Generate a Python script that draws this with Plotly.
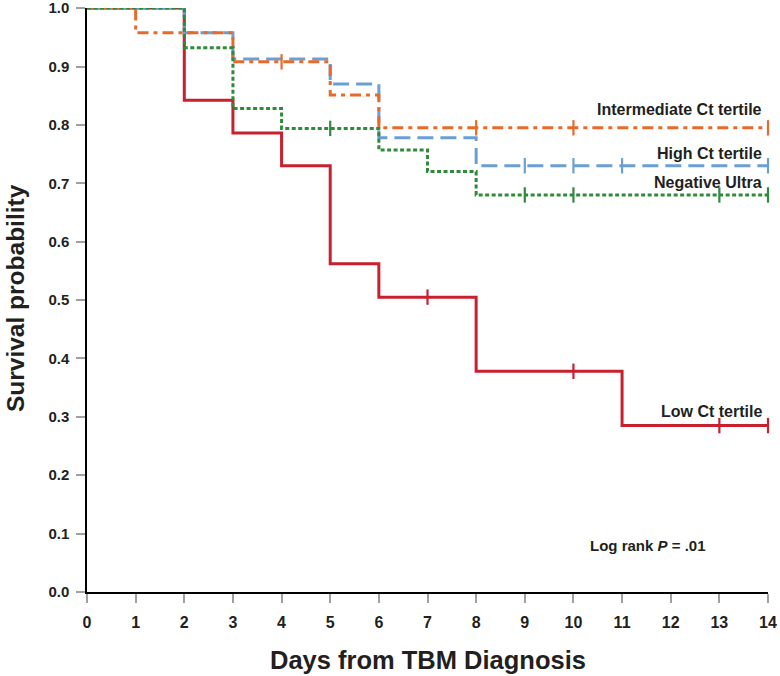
import plotly.graph_objects as go

# Kaplan-Meier step data
low_t = [0, 2, 3, 4, 5, 6, 8, 11, 14]
low_s = [1.0, 0.842, 0.786, 0.730, 0.562, 0.505, 0.378, 0.285, 0.285]
low_c = [7, 10, 13, 14]

int_t = [0, 1, 3, 5, 6, 14]
int_s = [1.0, 0.958, 0.908, 0.851, 0.795, 0.795]
int_c = [4, 8, 10, 14]

high_t = [0, 2, 3, 5, 6, 8, 14]
high_s = [1.0, 0.958, 0.913, 0.870, 0.778, 0.730, 0.730]
high_c = [9, 10, 11, 14]

neg_t = [0, 2, 3, 4, 6, 7, 8, 14]
neg_s = [1.0, 0.932, 0.828, 0.794, 0.757, 0.720, 0.680, 0.680]
neg_c = [5, 9, 10, 13, 14]

x_ticks = list(range(0, 15))
y_ticks = [0.0, 0.1, 0.2, 0.3, 0.4, 0.5, 0.6, 0.7, 0.8, 0.9, 1.0]

RED = "#C8202F"
ORANGE = "#E8692A"
BLUE = "#6A9FD6"
GREEN = "#2F8A3B"


def surv_at(ts, ss, t):
    v = ss[0]
    for ti, si in zip(ts, ss):
        if ti <= t:
            v = si
    return v


fig = go.Figure()

series = [
    ("Low Ct tertile", low_t, low_s, low_c, RED, "solid"),
    ("High Ct tertile", high_t, high_s, high_c, BLUE, "16px,7px"),
    ("Intermediate Ct tertile", int_t, int_s, int_c, ORANGE, "11px,5px,4px,5px"),
    ("Negative Ultra", neg_t, neg_s, neg_c, GREEN, "4px,2.5px"),
]

for name, ts, ss, cs, col, dash in series:
    fig.add_trace(go.Scatter(
        x=ts, y=ss, mode="lines", line=dict(color=col, width=3, dash=dash, shape="hv"),
        name=name, showlegend=False, cliponaxis=False))
    fig.add_trace(go.Scatter(
        x=cs, y=[surv_at(ts, ss, c) for c in cs], mode="markers",
        marker=dict(symbol="line-ns", size=11, line=dict(color=col, width=2.2)),
        showlegend=False, cliponaxis=False))

tick_font = dict(family="Liberation Sans", size=15, color="#231F20", weight="bold")
xtick_font = dict(family="Liberation Sans", size=16, color="#231F20", weight="bold")

fig.update_layout(
    width=780, height=676,
    margin=dict(l=87, r=12, t=8, b=84),
    plot_bgcolor="white", paper_bgcolor="white",
    xaxis=dict(range=[0, 14], tickvals=x_ticks, ticktext=[str(v) for v in x_ticks],
               automargin=False, ticklabeloverflow="allow",
               showgrid=False, zeroline=False, showline=True, linecolor="black", linewidth=1.5,
               ticks="outside", ticklen=9, tickcolor="#A0A0A0", tickwidth=2,
               ticklabelstandoff=6, tickfont=xtick_font),
    yaxis=dict(range=[0, 1.0002], tickvals=y_ticks, ticktext=[f"{v:.1f}" for v in y_ticks],
               automargin=False, ticklabeloverflow="allow",
               showgrid=False, zeroline=False, showline=True, linecolor="black", linewidth=1.5,
               ticks="outside", ticklen=9, tickcolor="#A0A0A0", tickwidth=2,
               ticklabelstandoff=4, tickfont=tick_font),
)

ann_font = dict(family="Liberation Sans", size=16, color="#231F20", weight="bold")
labels = [
    ("Intermediate Ct tertile", 13.92, 0.826),
    ("High Ct tertile", 13.92, 0.751),
    ("Negative Ultra", 13.92, 0.701),
    ("Low Ct tertile", 13.92, 0.309),
]
for txt, x, y in labels:
    fig.add_annotation(x=x, y=y, text=txt, showarrow=False, xanchor="right", yanchor="middle",
                       font=ann_font)

fig.add_annotation(x=10.3, y=0.080, text="Log rank <i>P</i> = .01", showarrow=False,
                   xanchor="left", yanchor="middle",
                   font=dict(family="Liberation Sans", size=15, color="#231F20", weight="bold"))

xtitle_font = dict(family="Liberation Sans", size=25.5, color="#231F20", weight="bold")
ytitle_font = dict(family="Liberation Sans", size=24.5, color="#231F20", weight="bold")
fig.add_annotation(xref="paper", yref="paper", x=0.5, y=-0.117, yanchor="middle",
                   text="Days from TBM Diagnosis", showarrow=False, font=xtitle_font)
fig.add_annotation(xref="paper", yref="paper", x=-0.106, y=0.503, xanchor="center",
                   yanchor="middle", textangle=-90,
                   text="Survival probability", showarrow=False, font=ytitle_font)

fig.write_html("out.html", config={"displayModeBar": False},
               post_script="document.body.style.margin='0';document.body.style.overflow='hidden';")
